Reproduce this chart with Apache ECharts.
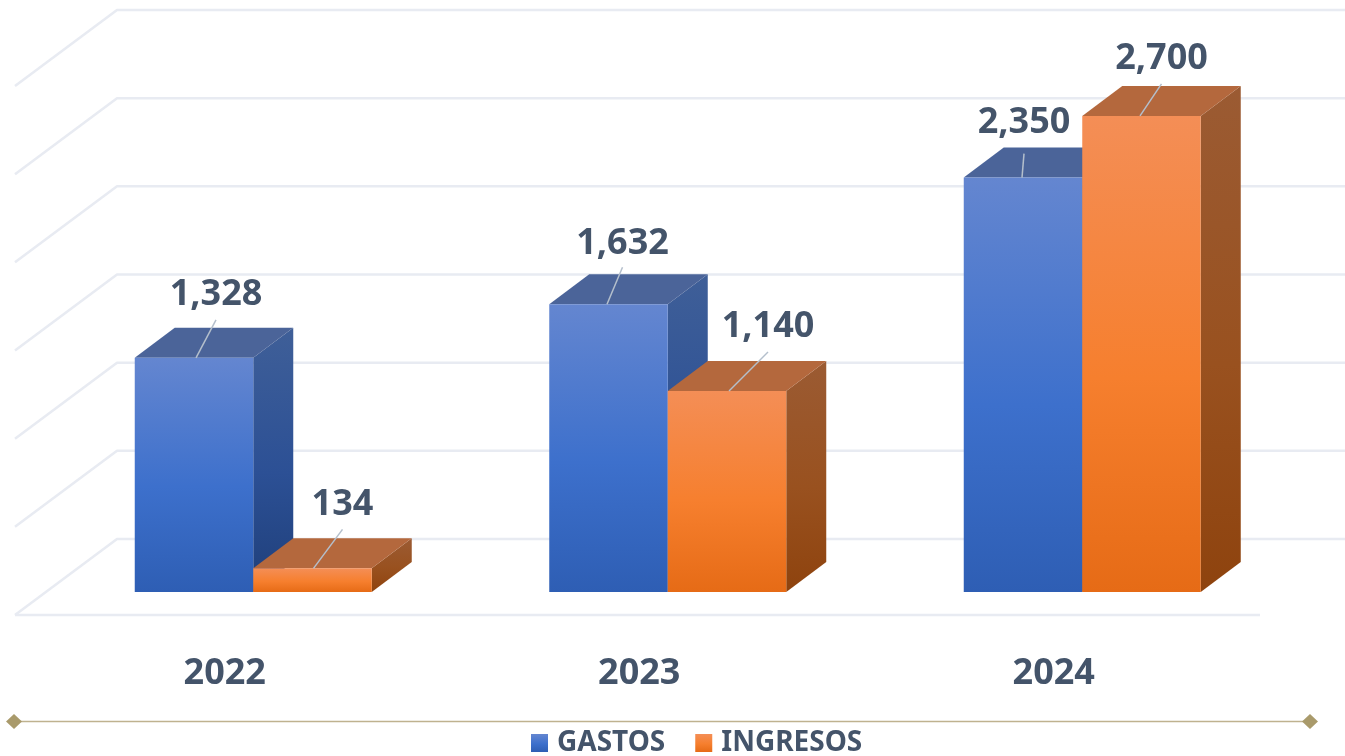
<!DOCTYPE html>
<html>
<head>
<meta charset="UTF-8">
<title>Gastos e ingresos</title>
<script src="https://cdn.jsdelivr.net/npm/echarts@6/dist/echarts.min.js"></script>
<style>
html,body{margin:0;padding:0;background:#fff}
#main{width:1345px;height:756px}
</style>
</head>
<body>
<div id="main"></div>
<script type="text/javascript">
var years = ['2022', '2023', '2024'];
var gastos = [1328, 1632, 2350];
var ingresos = [134, 1140, 2700];
var wallTicks = [0, 500, 1000, 1500, 2000, 2500, 3000];

// leader line per label, relative to the middle of the bar's front top edge:
// start dx, end dx, end dy, gap up to the text
var gastosLeaders = [[2, 22, -38, 7], [-1.5, 14, -37, 5], [-1, 1, -24, 13]];
var ingresosLeaders = [[1, 30, -39, 7], [2, 41, -39, 7], [-1.5, 20, -32, 7]];

var FONT = '"Noto Sans", "Open Sans", sans-serif';
var TEXT = '#44546a';
var BAR_W = 118.5, DX = 40, DY = 30;
var SHIFT = 28.5; // columns stand right of the band centre, the year labels do not follow the depth

function grad(a, b, c) {
	return new echarts.graphic.LinearGradient(0, 0, 0, 1, [
		{offset: 0, color: a}, {offset: 0.55, color: b}, {offset: 1, color: c}
	]);
}

var blue = {
	front: function () { return grad('#6486d0', '#3d70cc', '#2e5eb4'); },
	side: function () { return grad('#3f5f98', '#2c5095', '#1f3f7a'); },
	top: '#4b6499'
};
var orange = {
	front: function () { return grad('#f48e56', '#f67f2e', '#e66b16'); },
	side: function () { return grad('#9b5b33', '#99511f', '#8e430e'); },
	top: '#b4683d'
};

// one 3d column: side is -1 for the left one of the pair, 0 for the right one
function barRenderer(colors, side, leaders) {
	return function (params, api) {
		var base = api.coord([api.value(0), 0]);
		var top = api.coord([api.value(0), api.value(1)]);
		var x0 = base[0] + SHIFT + side * BAR_W, x1 = x0 + BAR_W;
		var y0 = base[1], y1 = top[1];
		var mid = (x0 + x1) / 2;
		var off = leaders[params.dataIndex];
		return {
			type: 'group',
			children: [
				{type: 'polygon', shape: {points: [[x1, y1], [x1 + DX, y1 - DY], [x1 + DX, y0 - DY], [x1, y0]]},
					style: {fill: colors.side()}},
				{type: 'polygon', shape: {points: [[x0, y1], [x0 + DX, y1 - DY], [x1 + DX, y1 - DY], [x1, y1]]},
					style: {fill: colors.top}},
				{type: 'rect', shape: {x: x0, y: y1, width: BAR_W, height: y0 - y1},
					style: {fill: colors.front()}},
				{type: 'line', z2: 10, shape: {x1: mid + off[0], y1: y1, x2: mid + off[1], y2: y1 + off[2]},
					style: {stroke: '#b4bfcc', lineWidth: 1.5}},
				{type: 'text', z2: 11, style: {
					x: mid + off[1], y: y1 + off[2] - off[3],
					text: api.value(1).toLocaleString('en-US'),
					font: 'bold 36px ' + FONT, fill: TEXT, align: 'center', verticalAlign: 'bottom'
				}}
			]
		};
	};
}

function wallRenderer(params, api) {
	var a = api.coord([0, api.value(1)]);
	var b = api.coord([1, api.value(1)]);
	var line = {stroke: '#e8ebf2', fill: 'none', lineWidth: 2.5, lineJoin: 'round'};
	var kids = [{type: 'polyline', shape: {points: [[a[0] - 102, a[1] + 76], a, b]}, style: line}];
	if (api.value(1) === 0) {
		kids.push({type: 'line', shape: {x1: a[0] - 102, y1: a[1] + 76, x2: 1260, y2: a[1] + 76}, style: line});
	}
	return {type: 'group', children: kids};
}

function pairs(values) {
	return values.map(function (v, i) { return [i, v]; });
}

var option = {
	animation: false,
	backgroundColor: '#fff',
	grid: [
		{left: 17.5, width: 1243.5, top: 63, height: 529},
		{left: 117, right: 0, top: 10, height: 529}
	],
	xAxis: [
		{type: 'category', gridIndex: 0, data: years, axisLine: {show: false}, axisTick: {show: false},
			axisLabel: {margin: 64, color: TEXT, fontFamily: FONT, fontWeight: 'bold', fontSize: 36}},
		{type: 'value', gridIndex: 1, min: 0, max: 1, show: false}
	],
	yAxis: [
		{type: 'value', gridIndex: 0, min: 0, max: 3000, interval: 500, show: false},
		{type: 'value', gridIndex: 1, min: 0, max: 3000, interval: 500, show: false}
	],
	legend: {
		left: 531, top: 729, padding: 0, itemWidth: 17, itemHeight: 18, itemGap: 30, selectedMode: false,
		textStyle: {color: TEXT, fontFamily: FONT, fontWeight: 'bold', fontSize: 28, padding: [5, 0, 0, 4]},
		data: [
			{name: 'GASTOS', icon: 'rect', itemStyle: {color: grad('#6486d0', '#3d70cc', '#2e5eb4')}},
			{name: 'INGRESOS', icon: 'rect', itemStyle: {color: grad('#f48e56', '#f67f2e', '#e66b16')}}
		]
	},
	series: [
		{type: 'custom', name: 'pared', xAxisIndex: 1, yAxisIndex: 1, clip: false, silent: true, z: 1,
			encode: {x: 0, y: 1}, data: wallTicks.map(function (v) { return [0, v]; }), renderItem: wallRenderer},
		{type: 'custom', name: 'GASTOS', xAxisIndex: 0, yAxisIndex: 0, clip: false, z: 2,
			itemStyle: {color: '#3d70cc'}, encode: {x: 0, y: 1}, data: pairs(gastos),
			renderItem: barRenderer(blue, -1, gastosLeaders)},
		{type: 'custom', name: 'INGRESOS', xAxisIndex: 0, yAxisIndex: 0, clip: false, z: 3,
			itemStyle: {color: '#f67f2e'}, encode: {x: 0, y: 1}, data: pairs(ingresos),
			renderItem: barRenderer(orange, 0, ingresosLeaders)}
	],
	graphic: [
		{type: 'line', shape: {x1: 14, y1: 721.5, x2: 1310, y2: 721.5}, style: {stroke: '#bfb28f', lineWidth: 1.5}},
		{type: 'polygon', shape: {points: [[14, 714], [22, 721.5], [14, 729], [6, 721.5]]}, style: {fill: '#a99a6b'}},
		{type: 'polygon', shape: {points: [[1310, 714], [1318, 721.5], [1310, 729], [1302, 721.5]]}, style: {fill: '#a99a6b'}}
	]
};

var myChart = echarts.init(document.getElementById('main'));
myChart.setOption(option);
</script>
</body>
</html>
